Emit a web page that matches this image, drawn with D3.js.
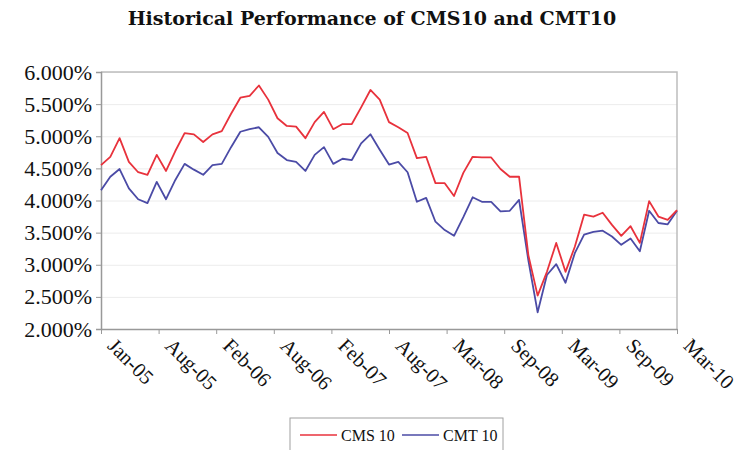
<!DOCTYPE html>
<html>
<head>
<meta charset="utf-8">
<script src="https://cdn.jsdelivr.net/npm/d3@7.9.0/dist/d3.min.js"></script>
<style>
  html, body { margin: 0; padding: 0; background: #fff; }
  svg { display: block; }
  .gridlines line { stroke: #ececec; }
  .gridlines path { display: none; }
</style>
</head>
<body>
<div id="chart"></div>
<script>
// monthly series, Jan-05 .. Mar-10 (63 months), in percent
const cms10 = [
  4.55, 4.68, 4.97, 4.60, 4.44, 4.40, 4.71, 4.46, 4.77, 5.05,
  5.03, 4.91, 5.03, 5.08, 5.35, 5.60, 5.63, 5.79, 5.57, 5.28,
  5.16, 5.15, 4.97, 5.22, 5.38, 5.11, 5.19, 5.19, 5.45, 5.72,
  5.57, 5.22, 5.14, 5.05, 4.66, 4.68, 4.27, 4.27, 4.07, 4.43,
  4.68, 4.67, 4.67, 4.49, 4.37, 4.37, 3.15, 2.52, 2.89, 3.34,
  2.89, 3.28, 3.78, 3.75, 3.81, 3.62, 3.45, 3.60, 3.34, 3.99,
  3.75, 3.70, 3.85
];
const cmt10 = [
  4.16, 4.37, 4.49, 4.19, 4.02, 3.96, 4.29, 4.02, 4.32, 4.57,
  4.48, 4.40, 4.55, 4.57, 4.83, 5.07, 5.11, 5.14, 4.99, 4.74,
  4.63, 4.60, 4.46, 4.71, 4.83, 4.57, 4.65, 4.63, 4.89, 5.03,
  4.79, 4.56, 4.60, 4.44, 3.98, 4.04, 3.67, 3.54, 3.45, 3.74,
  4.05, 3.98, 3.98, 3.83, 3.84, 4.01, 3.07, 2.26, 2.84, 3.01,
  2.72, 3.18, 3.47, 3.51, 3.53, 3.44, 3.31, 3.41, 3.21, 3.84,
  3.65, 3.63, 3.84
];
const xTickLabels = ['Jan-05', 'Aug-05', 'Feb-06', 'Aug-06', 'Feb-07', 'Aug-07',
  'Mar-08', 'Sep-08', 'Mar-09', 'Sep-09', 'Mar-10'];
const yTicks = [2.0, 2.5, 3.0, 3.5, 4.0, 4.5, 5.0, 5.5, 6.0];
const seriesNames = ['CMS 10', 'CMT 10'];
const seriesColors = ['#e8323c', '#4b4ba6'];

const width = 738;
const height = 450;
const plot = { left: 101, right: 677, top: 72, bottom: 329 };

const svg = d3.select('#chart').append('svg')
  .attr('width', width)
  .attr('height', height);

const xScale = d3.scaleLinear()
  .domain([0, cms10.length - 1])
  .range([plot.left, plot.right]);

const yScale = d3.scaleLinear()
  .domain([2, 6])
  .range([plot.bottom, plot.top]);

// title
svg.append('text')
  .attr('x', 372)
  .attr('y', 25)
  .attr('text-anchor', 'middle')
  .style('font-family', '"DejaVu Serif", serif')
  .style('font-weight', 'bold')
  .style('font-size', '19px')
  .attr('fill', '#111')
  .text('Historical Performance of CMS10 and CMT10');

// gridlines
svg.append('g')
  .attr('class', 'gridlines')
  .attr('transform', `translate(${plot.left}, 0)`)
  .call(d3.axisLeft(yScale).tickValues(yTicks).tickFormat('')
    .tickSize(-(plot.right - plot.left)));

// plot border (top + right)
svg.append('path')
  .attr('d', `M${plot.left},${plot.top}H${plot.right}V${plot.bottom}`)
  .attr('fill', 'none')
  .attr('stroke', '#bdbdbd')
  .attr('stroke-width', 1.5);

// y axis
const yAxis = svg.append('g')
  .attr('transform', `translate(${plot.left}, 0)`)
  .call(d3.axisLeft(yScale).tickValues(yTicks).tickSize(5).tickPadding(4)
    .tickFormat((d) => d3.format('.3f')(d) + '%'));
yAxis.select('.domain').attr('stroke', '#999').attr('stroke-width', 1.5);
yAxis.selectAll('.tick line').attr('stroke', '#999');
yAxis.selectAll('.tick text')
  .style('font-family', '"Liberation Serif", serif')
  .style('font-size', '22px')
  .attr('fill', '#111');

// x axis
const xTickValues = xTickLabels.map((d, i) => (i * (cms10.length - 1)) / (xTickLabels.length - 1));
const xAxis = svg.append('g')
  .attr('transform', `translate(0, ${plot.bottom})`)
  .call(d3.axisBottom(xScale).tickValues(xTickValues).tickSize(5)
    .tickSizeOuter(0)
    .tickFormat((d, i) => xTickLabels[i]));
xAxis.select('.domain').attr('stroke', '#999').attr('stroke-width', 1.5);
xAxis.selectAll('.tick line').attr('stroke', '#999');
xAxis.selectAll('.tick text')
  .attr('text-anchor', 'start')
  .attr('x', 0)
  .attr('y', 0)
  .attr('dy', 0)
  .attr('transform', 'translate(5, 18) rotate(45)')
  .style('font-family', '"Liberation Serif", serif')
  .style('font-size', '20.5px')
  .attr('fill', '#111');

// lines
const line = d3.line()
  .x((d, i) => xScale(i))
  .y((d) => yScale(d));

[cmt10, cms10].forEach((series, k) => {
  svg.append('path')
    .datum(series)
    .attr('fill', 'none')
    .attr('stroke', seriesColors[1 - k])
    .attr('stroke-width', 1.8)
    .attr('stroke-linejoin', 'round')
    .attr('d', line);
});

// legend
const legend = svg.append('g').attr('transform', 'translate(290, 418)');
legend.append('rect')
  .attr('width', 213)
  .attr('height', 36)
  .attr('fill', '#fff')
  .attr('stroke', '#a0a0a0');

const legendItems = legend.selectAll('g.item')
  .data(seriesNames)
  .join('g')
  .attr('class', 'item')
  .attr('transform', (d, i) => `translate(${10 + i * 102}, 17)`);

legendItems.append('line')
  .attr('x1', 0)
  .attr('x2', 37)
  .attr('stroke', (d, i) => seriesColors[i])
  .attr('stroke-width', 1.6);

legendItems.append('text')
  .attr('x', 41)
  .attr('dy', '0.35em')
  .style('font-family', '"Liberation Serif", serif')
  .style('font-size', '16px')
  .attr('fill', '#111')
  .text((d) => d);
</script>
</body>
</html>
